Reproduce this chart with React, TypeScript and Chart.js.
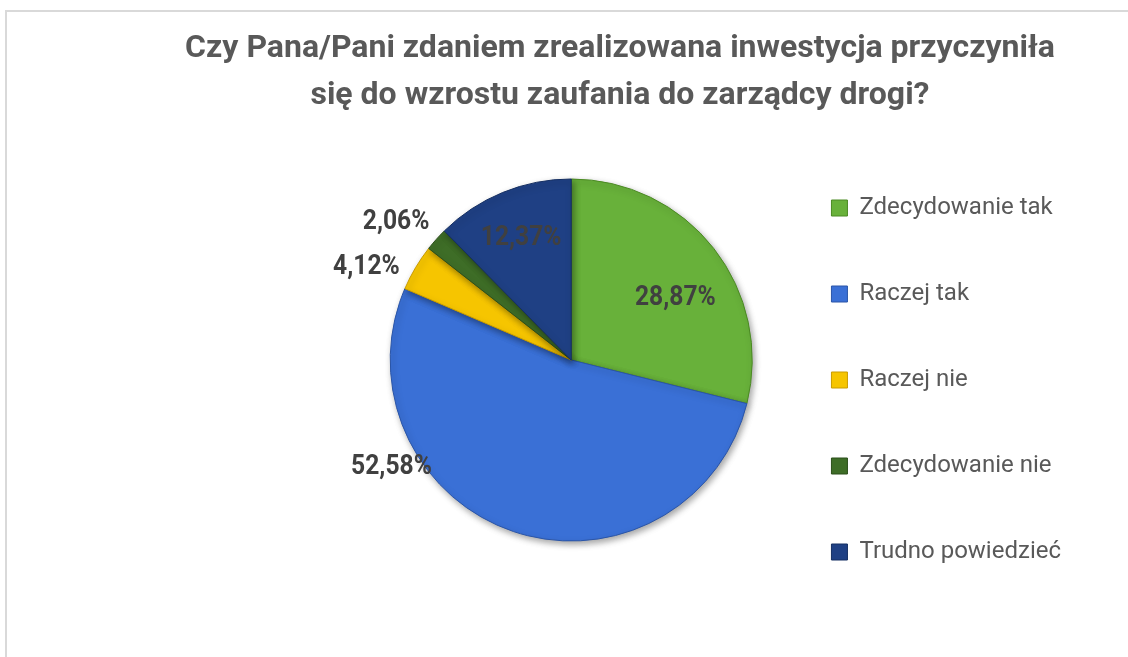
import React, { useEffect, useRef } from "react";
import { Chart, registerables } from "chart.js";

Chart.register(...registerables);

const categories = [
  "Zdecydowanie tak",
  "Raczej tak",
  "Raczej nie",
  "Zdecydowanie nie",
  "Trudno powiedzieć",
];
const shares = [28.87, 52.58, 4.12, 2.06, 12.37];
const titleLines = [
  "Czy Pana/Pani zdaniem zrealizowana inwestycja przyczyniła",
  "się do wzrostu zaufania do zarządcy drogi?",
];

const sliceColors = ["#68b13a", "#3a70d6", "#f6c500", "#3e6d27", "#1f4084"];
const sliceBorders = ["#4b8a23", "#2a55a8", "#c99c00", "#2b4f1a", "#152f62"];
// label placement relative to each slice: radius factor and angular shift (deg)
const labelRadius = [0.67, 1.155, 1.243, 1.232, 0.73];
const labelAngleShift = [7.2, 40.7, -6.2, -3.5, 0];

const FONT = "Roboto, 'Liberation Sans', sans-serif";

const fmt = (v: number) => v.toFixed(2).replace(".", ",") + "%";

const framePlugin = {
  id: "frame",
  beforeDraw(chart: any) {
    const { ctx } = chart;
    ctx.save();
    ctx.fillStyle = "#ffffff";
    ctx.fillRect(0, 0, chart.width, chart.height);
    ctx.fillStyle = "#d9d9d9";
    ctx.fillRect(5, 10, chart.width, 2);
    ctx.fillRect(5, 10, 2, chart.height);
    ctx.fillStyle = "#595959";
    ctx.font = `bold 32px ${FONT}`;
    ctx.textAlign = "center";
    ctx.textBaseline = "alphabetic";
    ctx.fillText(titleLines[0], 620, 57);
    ctx.fillText(titleLines[1], 620, 104);
    ctx.restore();
  },
};

const shadowPlugin = {
  id: "pieShadow",
  beforeDatasetsDraw(chart: any) {
    const { ctx } = chart;
    ctx.save();
    ctx.shadowColor = "rgba(0,0,0,0.35)";
    ctx.shadowBlur = 6;
    ctx.shadowOffsetX = 2;
    ctx.shadowOffsetY = 3;
  },
  afterDatasetsDraw(chart: any) {
    chart.ctx.restore();
  },
};

const labelPlugin = {
  id: "sliceLabels",
  afterDatasetsDraw(chart: any) {
    const { ctx } = chart;
    const meta = chart.getDatasetMeta(0);
    meta.data.forEach((arc: any, i: number) => {
      const { x, y, startAngle, endAngle, outerRadius } = arc.getProps(
        ["x", "y", "startAngle", "endAngle", "outerRadius"],
        true
      );
      const mid = (startAngle + endAngle) / 2 + (labelAngleShift[i] * Math.PI) / 180;
      const r = outerRadius * labelRadius[i];
      ctx.save();
      ctx.translate(x + Math.cos(mid) * r, y + Math.sin(mid) * r);
      ctx.scale(0.88, 1);
      ctx.font = `bold 28px ${FONT}`;
      ctx.fillStyle = "#404040";
      ctx.textAlign = "center";
      ctx.textBaseline = "middle";
      ctx.fillText(fmt(shares[i]), 0, 0);
      ctx.restore();
    });
  },
};

export default function App() {
  const ref = useRef<HTMLCanvasElement | null>(null);
  useEffect(() => {
    if (!ref.current) return;
    const chart = new Chart(ref.current, {
      type: "pie",
      data: {
        labels: categories,
        datasets: [
          {
            data: shares,
            backgroundColor: sliceColors,
            borderColor: sliceBorders,
            borderWidth: 1,
            radius: 181,
          },
        ],
      },
      options: {
        responsive: false,
        animation: false,
        events: [],
        layout: { padding: { left: 373, right: 57, top: 94, bottom: 31 } },
        plugins: {
          title: { display: false },
          tooltip: { enabled: false },
          legend: {
            display: true,
            position: "right",
            align: "end",
            labels: {
              boxWidth: 16,
              boxHeight: 16,
              padding: 62,
              color: "#595959",
              font: { family: FONT, size: 24 },
            },
          },
        },
      },
      plugins: [framePlugin, shadowPlugin, labelPlugin],
    } as any);
    return () => chart.destroy();
  }, []);
  return (
    <div style={{ position: "absolute", left: 0, top: 0, width: 1128, height: 657 }}>
      <canvas ref={ref} width={1128} height={657} style={{ display: "block" }} />
    </div>
  );
}
